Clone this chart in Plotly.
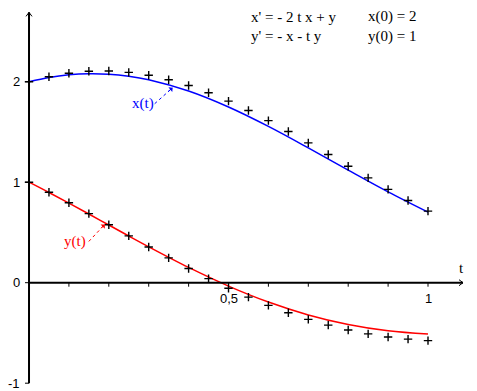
import plotly.graph_objects as go

# exact solution curves
t_curve = [0.0, 0.05, 0.1, 0.15, 0.2, 0.25, 0.3, 0.4, 0.5, 0.6, 0.7, 0.8, 0.9, 1.0]
x_curve = [2.0, 2.0424, 2.0692, 2.0801, 2.0752, 2.0547, 2.0192, 1.9070, 1.7481,
           1.5550, 1.3410, 1.1197, 0.9033, 0.7017]
y_curve = [1.0, 0.8977, 0.7917, 0.6833, 0.5739, 0.4648, 0.3572, 0.1518, -0.0337,
           -0.1926, -0.3206, -0.4157, -0.4785, -0.5113]

# approximation points (+ markers)
t_pts = [0.0, 0.05, 0.1, 0.15, 0.2, 0.25, 0.3, 0.35, 0.4, 0.45, 0.5,
         0.55, 0.6, 0.65, 0.7, 0.75, 0.8, 0.85, 0.9, 0.95, 1.0]
x_pts = [2.0, 2.05, 2.0848, 2.1037, 2.1065, 2.0932, 2.0642, 2.0200, 1.9616, 1.8902,
         1.8072, 1.7141, 1.6126, 1.5046, 1.3918, 1.2761, 1.1593, 1.0431, 0.9290,
         0.8184, 0.7126]
y_pts = [1.0, 0.9, 0.7953, 0.6870, 0.5767, 0.4656, 0.3551, 0.2466, 0.1413, 0.0404,
         -0.0550, -0.1440, -0.2257, -0.2996, -0.3651, -0.4219, -0.4699, -0.5091,
         -0.5396, -0.5618, -0.5760]

x_ticks = [0.1, 0.2, 0.3, 0.4, 0.5, 0.6, 0.7, 0.8, 0.9, 1.0]
x_tick_text = {0.5: "0,5", 1.0: "1"}
y_ticks = [-1, 0, 1, 2]
y_tick_text = ["-1", "0", "1", "2"]

eq_left = ["x' = - 2 t x + y", "y' = - x - t y"]
eq_right = ["x(0) = 2", "y(0) = 1"]

W, H = 477, 391
X_RANGE = [-0.0727, 1.1228]
Y_RANGE = [-1.0776, 2.813]
X_END = 1.0877
Y_END = 2.69

fig = go.Figure()
fig.add_trace(go.Scatter(x=t_curve, y=x_curve, mode="lines",
                         line=dict(color="#0000ff", width=1.5, shape="spline"),
                         showlegend=False, hoverinfo="skip"))
fig.add_trace(go.Scatter(x=t_curve, y=y_curve, mode="lines",
                         line=dict(color="#ff0000", width=1.5, shape="spline"),
                         showlegend=False, hoverinfo="skip"))
for ys in (x_pts, y_pts):
    fig.add_trace(go.Scatter(x=t_pts, y=ys, mode="markers",
                             marker=dict(symbol="cross-thin", size=6,
                                         line=dict(color="black", width=1.4)),
                             showlegend=False, hoverinfo="skip"))

shapes = []
# axes
shapes.append(dict(type="line", x0=0, x1=0, y0=-1, y1=Y_END, line=dict(color="black", width=2)))
shapes.append(dict(type="line", x0=0, x1=X_END, y0=0, y1=0, line=dict(color="black", width=2)))
# arrow heads
shapes.append(dict(type="path", xsizemode="pixel", ysizemode="pixel", xanchor=0, yanchor=Y_END,
                   path="M -3,-4 L 0,0 L 3,-4", line=dict(color="black", width=1)))
shapes.append(dict(type="path", xsizemode="pixel", ysizemode="pixel", xanchor=X_END, yanchor=0,
                   path="M -4,3 L 0,0 L -4,-3", line=dict(color="black", width=1)))
for xv in x_ticks:
    shapes.append(dict(type="line", ysizemode="pixel", yanchor=0, x0=xv, x1=xv, y0=0, y1=-4,
                       line=dict(color="black", width=1)))
for yv in y_ticks:
    shapes.append(dict(type="line", xsizemode="pixel", xanchor=0, x0=-4, x1=0, y0=yv, y1=yv,
                       line=dict(color="black", width=1)))
# dotted pointer lines
shapes.append(dict(type="line", xsizemode="pixel", ysizemode="pixel", xanchor=0.36, yanchor=1.94,
                   x0=-18, y0=-16, x1=0, y1=0, line=dict(color="#0000ff", width=1, dash="dot")))
shapes.append(dict(type="line", xsizemode="pixel", ysizemode="pixel", xanchor=0.19, yanchor=0.58,
                   x0=-16, y0=-17, x1=0, y1=0, line=dict(color="#ff0000", width=1, dash="dot")))

ann = []
tick_font = dict(family="Liberation Sans", size=13, color="black")
for xv, txt in x_tick_text.items():
    ann.append(dict(x=xv, y=0, xref="x", yref="y", text=txt, showarrow=False,
                    yshift=-16, font=tick_font))
for yv, txt in zip(y_ticks, y_tick_text):
    ann.append(dict(x=0, y=yv, xref="x", yref="y", text=txt, showarrow=False,
                    xanchor="right", xshift=-7, font=tick_font))
ann.append(dict(x=X_END, y=0, xref="x", yref="y", text="t", showarrow=False,
                xshift=-2, yshift=15, font=dict(family="Liberation Serif", size=15, color="black")))

eq_font = dict(family="Liberation Serif", size=15, color="black")
for i, (a, b) in enumerate(zip(eq_left, eq_right)):
    yy = 1 - (17 + 19 * i) / H
    ann.append(dict(x=249 / W, y=yy, xref="paper", yref="paper", text=a, showarrow=False,
                    xanchor="left", yanchor="middle", font=eq_font))
    ann.append(dict(x=366 / W, y=yy, xref="paper", yref="paper", text=b, showarrow=False,
                    xanchor="left", yanchor="middle", font=eq_font))

# curve labels and arrow heads
ann.append(dict(x=0.36, y=1.94, xref="x", yref="y", text="x(t)", showarrow=False,
                xshift=-30, yshift=-16, font=dict(family="Liberation Serif", size=15, color="#0000ff")))
ann.append(dict(x=0.19, y=0.58, xref="x", yref="y", text="y(t)", showarrow=False,
                xshift=-30, yshift=-17, font=dict(family="Liberation Serif", size=15, color="#ff0000")))
ann.append(dict(x=0.36, y=1.94, xref="x", yref="y", text="", showarrow=True, ax=-6, ay=5,
                arrowhead=1, arrowsize=1, arrowwidth=1, arrowcolor="#0000ff"))
ann.append(dict(x=0.19, y=0.58, xref="x", yref="y", text="", showarrow=True, ax=-5, ay=5,
                arrowhead=1, arrowsize=1, arrowwidth=1, arrowcolor="#ff0000"))

fig.update_layout(width=W, height=H, margin=dict(l=0, r=0, t=0, b=0),
                  paper_bgcolor="white", plot_bgcolor="white",
                  xaxis=dict(range=X_RANGE, visible=False, fixedrange=True),
                  yaxis=dict(range=Y_RANGE, visible=False, fixedrange=True),
                  shapes=shapes, annotations=ann)
fig.write_html("out.html")
